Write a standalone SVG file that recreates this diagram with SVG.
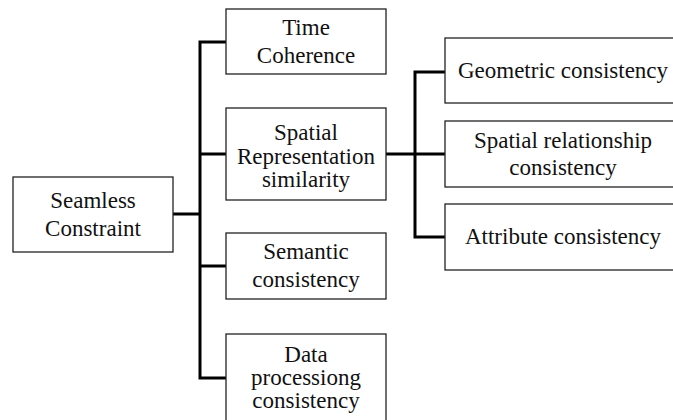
<svg xmlns="http://www.w3.org/2000/svg" width="673" height="420" viewBox="0 0 673 420">
<style>
.box{fill:#fff;stroke:#222;stroke-width:1.3}
.lbl{font-family:'Liberation Serif','Times New Roman',serif;font-size:23px;fill:#111;text-anchor:middle}
.c{fill:none;stroke:#000;stroke-width:3;stroke-linecap:square}
</style>
<rect width="673" height="420" fill="#fff"/>
<g id="connectors">
<path class="c" d="M173 214H200M200 42V378M200 42H226M200 154H226M200 266H226M200 378H226"/>
<path class="c" d="M386 154H445M415 72V237M415 72H445M415 237H445"/>
</g>
<g id="nodes" font-family="Liberation Serif" font-size="23" text-anchor="middle">
<g id="seamless"><rect class="box" x="13" y="177" width="160" height="75"/><text class="lbl" x="93" y="208">Seamless</text><text class="lbl" x="93" y="236">Constraint</text></g>
<g id="time"><rect class="box" x="226" y="9" width="160" height="65"/><text class="lbl" x="306" y="35">Time</text><text class="lbl" x="306" y="63">Coherence</text></g>
<g id="spatialrep"><rect class="box" x="226" y="108" width="160" height="92"/><text class="lbl" x="306" y="140">Spatial</text><text class="lbl" x="306" y="163.5">Representation</text><text class="lbl" x="306" y="187">similarity</text></g>
<g id="semantic"><rect class="box" x="226" y="233" width="160" height="66"/><text class="lbl" x="306" y="259">Semantic</text><text class="lbl" x="306" y="287">consistency</text></g>
<g id="data"><rect class="box" x="226" y="334" width="160" height="100"/><text class="lbl" x="306" y="362">Data</text><text class="lbl" x="306" y="385">processiong</text><text class="lbl" x="306" y="408">consistency</text></g>
<g id="geometric"><rect class="box" x="445" y="38" width="237" height="65"/><text class="lbl" x="563" y="78">Geometric consistency</text></g>
<g id="spatialrel"><rect class="box" x="445" y="121" width="237" height="66"/><text class="lbl" x="563" y="148">Spatial relationship</text><text class="lbl" x="563" y="175">consistency</text></g>
<g id="attribute"><rect class="box" x="445" y="204" width="237" height="66"/><text class="lbl" x="563" y="244">Attribute consistency</text></g>
</g>
</svg>
